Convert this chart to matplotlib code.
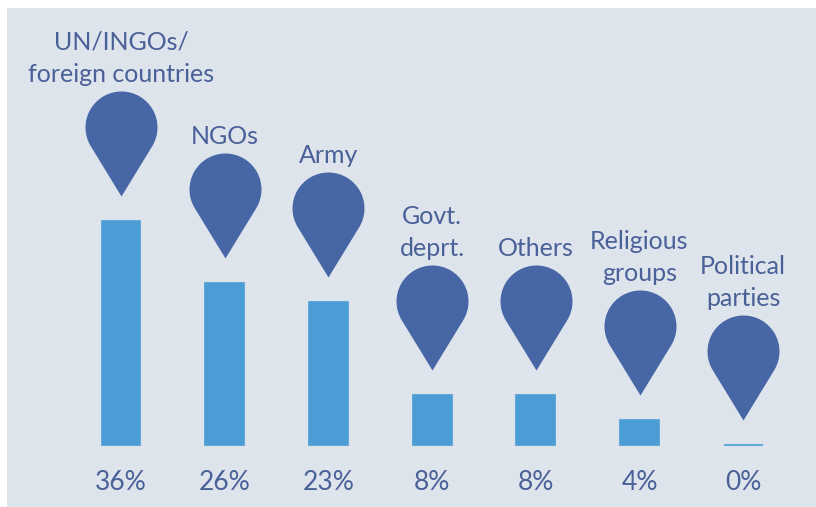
import matplotlib
matplotlib.use("Agg")
import matplotlib.pyplot as plt
import numpy as np
from matplotlib.path import Path
from matplotlib.markers import MarkerStyle

categories = ["UN/INGOs/\nforeign countries", "NGOs", "Army", "Govt.\ndeprt.",
              "Others", "Religious\ngroups", "Political\nparties"]
values = [36, 26, 23, 8, 8, 4, 0]
pct_labels = ["36%", "26%", "23%", "8%", "8%", "4%", "0%"]

BG = "#dee4ec"
BAR = "#4c9cd6"
PIN = "#4766a6"
TXT = "#4a6098"
DPI = 100


def pin_marker(gap=25, r=36, h=69):
    """
    Teardrop pin in pixel units, origin at bar top, tip 'gap' px above it.
    """
    ang = np.degrees(np.arccos(r / h))
    arc = Path.arc(-90 + ang, 270 - ang)
    verts = arc.vertices * r + [0, gap + h]
    verts = np.vstack([[0, gap], verts, [0, gap]])
    codes = [Path.MOVETO] + [Path.LINETO] + list(arc.codes[1:]) + [Path.CLOSEPOLY]
    path = Path(verts, codes)
    extent = gap + h + r
    return MarkerStyle(path), extent


plt.rcParams['font.family'] = ['Lato', 'DejaVu Sans']

fig = plt.figure(figsize=(8.16, 5.07), dpi=DPI, facecolor="white")
ax = fig.add_axes([7 / 816, 0, 809 / 816, 499 / 507])
ax.set_facecolor(BG)
for s in ax.spines.values():
    s.set_visible(False)
ax.set_xticks([])
ax.set_yticks([])

px_per_pct = 6.22
base_px = 62
ax.set_ylim(-base_px / px_per_pct, (499 - base_px) / px_per_pct)
step = 103.7
ax.set_xlim((7 - 121) / step, (816 - 121) / step)

x = np.arange(len(values))
ax.bar(x, values, width=0.376, color=BAR, edgecolor=BAR, linewidth=1.2)

marker, extent = pin_marker()
ax.plot(x, values, linestyle="none", marker=marker,
        markersize=2 * extent * 72 / DPI, color=PIN, markeredgewidth=0)

for xi, v, lab in zip(x, values, categories):
    ax.annotate(lab, (xi, v), xytext=(0, (extent + 5) * 72 / DPI),
                textcoords="offset points", ha="center", va="bottom",
                fontsize=18, color=TXT, linespacing=1.5)

for xi, lab in zip(x, pct_labels):
    ax.annotate(lab, (xi, 0), xytext=(0, -38 * 72 / DPI),
                textcoords="offset points", ha="center", va="center",
                fontsize=19, color=TXT)

fig.savefig("out.png", dpi=DPI, facecolor="white")
